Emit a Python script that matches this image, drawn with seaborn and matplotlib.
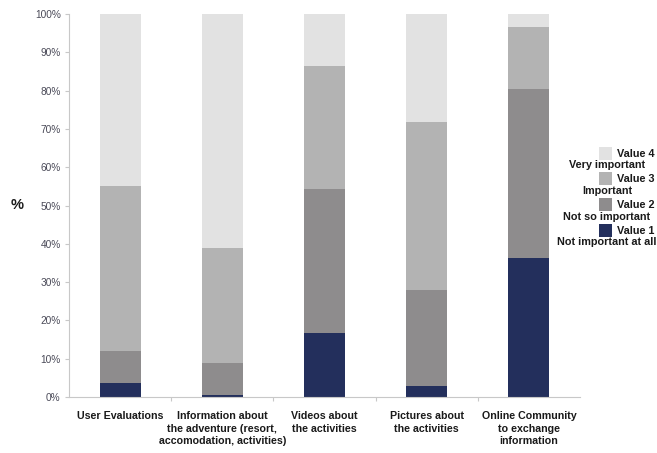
import matplotlib
matplotlib.use("Agg")
import matplotlib.pyplot as plt
import seaborn as sns
import pandas as pd
import numpy as np
from matplotlib.patches import Rectangle
from matplotlib.ticker import FixedLocator

categories = [
    "User Evaluations",
    "Information about\nthe adventure (resort,\naccomodation, activities)",
    "Videos about\nthe activities",
    "Pictures about\nthe activities",
    "Online Community\nto exchange\ninformation",
]
value1 = [3.7, 0.6, 16.6, 2.9, 36.2]
value2 = [8.3, 8.3, 37.8, 25.0, 44.2]
value3 = [43.1, 29.9, 32.0, 44.0, 16.3]
value4 = [44.9, 61.2, 13.6, 28.1, 3.3]
series_names = ["Value 1", "Value 2", "Value 3", "Value 4"]
series_desc = ["Not important at all", "Not so important", "Important", "Very important"]
y_ticks = [0, 10, 20, 30, 40, 50, 60, 70, 80, 90, 100]

colors = ["#232f5c", "#8e8c8d", "#b3b3b3", "#e2e2e2"]

sns.set_theme(style="white")
plt.rcParams["font.family"] = ["Liberation Sans", "DejaVu Sans"]

df = pd.DataFrame({"category": categories, "v1": value1, "v2": value2,
                   "v3": value3, "v4": value4})
cum = df[["v1", "v2", "v3", "v4"]].cumsum(axis=1)

W, H = 657, 453
fig = plt.figure(figsize=(W / 100, H / 100), dpi=100)
ax = fig.add_axes([69 / W, 1 - 397 / H, 511 / W, 383 / H])

for col, color in zip(["v4", "v3", "v2", "v1"], colors[::-1]):
    sns.barplot(x=df["category"], y=cum[col], color=color, width=0.4,
                saturation=1, edgecolor="none", linewidth=0, ax=ax,
                order=categories)

ax.set_xlim(-0.5, 4.5)
ax.set_ylim(0, 100)
ax.set_yticks(y_ticks)
ax.set_yticklabels([f"{t}%" for t in y_ticks], fontsize=7.3, color="#4a4a58")
ax.set_xticks(range(len(categories)))
ax.set_xticklabels(categories, fontsize=7.7, fontweight="bold", color="#1a1a1a",
                   linespacing=1.35)
ax.tick_params(axis="x", which="major", length=0, pad=10)
ax.xaxis.set_minor_locator(FixedLocator([0.5, 1.5, 2.5, 3.5]))
ax.tick_params(axis="x", which="minor", length=3, color="#c8c8c8", width=0.8,
               bottom=True)
ax.tick_params(axis="y", length=3, color="#c8c8c8", width=0.8, left=True, pad=3)
ax.set_xlabel("")
ax.set_ylabel("")
for s in ["top", "right"]:
    ax.spines[s].set_visible(False)
for s in ["left", "bottom"]:
    ax.spines[s].set_color("#c8c8c8")
    ax.spines[s].set_linewidth(0.8)

fig.text(17 / W, 1 - 205 / H, "%", fontsize=10.5, fontweight="bold",
         ha="center", va="center", color="#1a1a1a")

# legend
for i, (name, desc) in enumerate(zip(series_names[::-1], series_desc[::-1])):
    top = [147, 172, 198, 224][i]
    fig.patches.append(Rectangle((599 / W, 1 - (top + 13) / H), 13 / W, 13 / H,
                                 transform=fig.transFigure, facecolor=colors[3 - i],
                                 edgecolor="none"))
    fig.text(617 / W, 1 - (top + 6.5) / H, name, fontsize=7.8, fontweight="bold",
             ha="left", va="center", color="#1a1a1a")
    fig.text(607 / W, 1 - (top + 18.5) / H, desc, fontsize=7.8, fontweight="bold",
             ha="center", va="center", color="#1a1a1a")

fig.savefig("out.png", dpi=100, facecolor="white")
